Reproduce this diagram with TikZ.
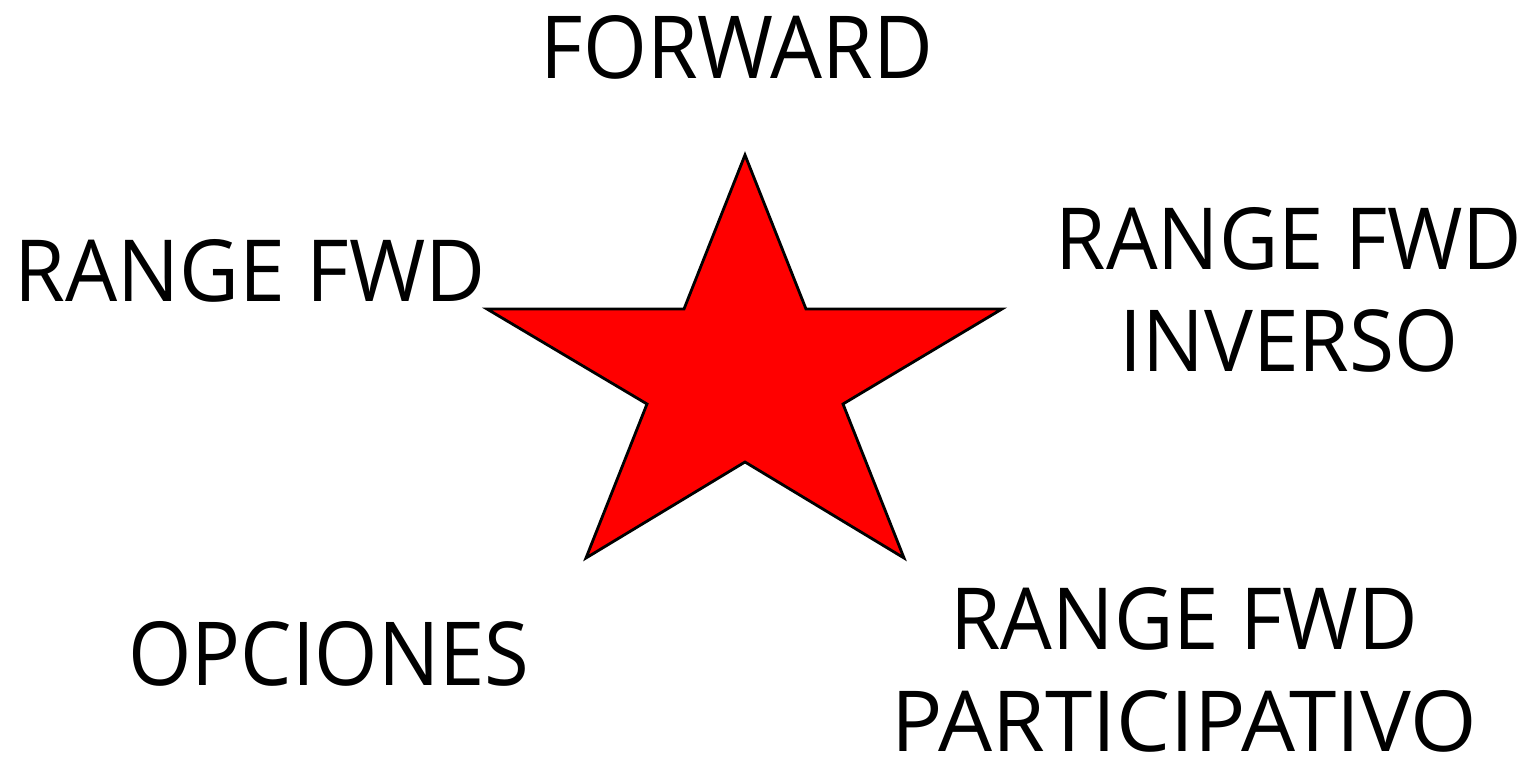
\documentclass[tikz,border=0pt]{standalone}
\usepackage{fontspec}
\setmainfont{Open Sans}
\usepackage{graphicx}
\usetikzlibrary{positioning}

\begin{document}
\begin{tikzpicture}[
    x=0.01cm,
    y=-0.01cm,
    redstar/.style={
        draw=black,
        fill=red,
        line width=0.8pt,
        line join=miter
    },
    label/.style={
        inner sep=0,
        align=center,
        font=\fontsize{20pt}{29pt}\selectfont
    }
]

\useasboundingbox (0,0) rectangle (1529,758);

%%%%%%%%%%%%%%%%%%%%%%%%%%%%%%%%%%%%%%%%%%%%%%%%%%%%
%% Star
%%%%%%%%%%%%%%%%%%%%%%%%%%%%%%%%%%%%%%%%%%%%%%%%%%%%

\coordinate (ptop)    at (745,155);
\coordinate (inul)    at (684,309);
\coordinate (pleft)   at (487,309);
\coordinate (inll)    at (647,404);
\coordinate (pbotl)   at (586,558);
\coordinate (inbot)   at (745,462);
\coordinate (pbotr)   at (904,558);
\coordinate (inlr)    at (843,404);
\coordinate (pright)  at (1002,309);
\coordinate (inur)    at (806,309);

\draw[redstar] (ptop) -- (inur) -- (pright) -- (inlr) -- (pbotr)
    -- (inbot) -- (pbotl) -- (inll) -- (pleft) -- (inul) -- cycle;

%%%%%%%%%%%%%%%%%%%%%%%%%%%%%%%%%%%%%%%%%%%%%%%%%%%%
%% Labels
%%%%%%%%%%%%%%%%%%%%%%%%%%%%%%%%%%%%%%%%%%%%%%%%%%%%

\node[label] (forward) at (737,47)
{\resizebox{3.92cm}{0.63cm}{FORWARD}};

\node[label] (rangefwd) at (250,271)
{\resizebox{4.71cm}{0.62cm}{RANGE FWD}};

\node[label] (rangeinv) at (1289,290)
{\resizebox{4.66cm}{0.62cm}{RANGE FWD}\\
 \resizebox{3.39cm}{0.62cm}{INVERSO}};

\node[label] (opciones) at (329,654)
{\resizebox{4.01cm}{0.64cm}{OPCIONES}};

\node[label] (rangepart) at (1184,670)
{\resizebox{4.67cm}{0.62cm}{RANGE FWD}\\
 \resizebox{5.85cm}{0.61cm}{PARTICIPATIVO}};

\end{tikzpicture}
\end{document}
